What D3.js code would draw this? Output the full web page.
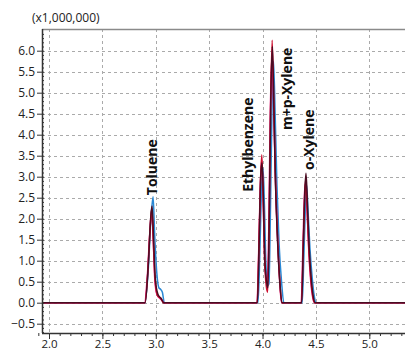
<!DOCTYPE html>
<html>
<head>
<meta charset="utf-8">
<script src="https://cdn.jsdelivr.net/npm/d3@7"></script>
<style>
  html, body { margin: 0; padding: 0; background: #fff; }
  svg { display: block; }
</style>
</head>
<body>
<svg id="chart" width="405" height="352"></svg>
<script>
// Chromatogram of aromatic solvents: retention time (min) vs. intensity (x1,000,000)
const xTicks = [2.0, 2.5, 3.0, 3.5, 4.0, 4.5, 5.0];
const yTicks = [-0.5, 0.0, 0.5, 1.0, 1.5, 2.0, 2.5, 3.0, 3.5, 4.0, 4.5, 5.0, 5.5, 6.0];
const scaleNote = "(x1,000,000)";

const peakNames = ["Toluene", "Ethylbenzene", "m+p-Xylene", "o-Xylene"];
const peakLabelTimes = [3.016, 3.911, 4.276, 4.486];
const peakLabelBase = [2.56, 2.64, 4.11, 3.16];

const seriesColors = ["#2a88d4", "#e8187e", "#cc1030", "#4a0c22"];

// [time, intensity] samples per run
const blueRun = [
  [1.90, 0], [2.900, 0], [2.930, 0.8], [2.955, 2.0], [2.975, 2.52], [2.990, 1.6], [3.010, 0.7],
  [3.030, 0.35], [3.045, 0.32], [3.062, 0.25], [3.080, 0],
  [3.958, 0], [3.975, 1.2], [3.990, 2.7], [4.005, 3.2], [4.018, 2.3], [4.032, 0.9], [4.048, 0.4],
  [4.060, 0.45], [4.073, 2.0], [4.088, 4.5], [4.103, 5.75], [4.118, 4.5], [4.135, 2.8],
  [4.155, 1.4], [4.178, 0.5], [4.200, 0],
  [4.372, 0], [4.387, 1.1], [4.402, 2.3], [4.413, 2.8], [4.426, 2.2], [4.444, 1.3], [4.465, 0.6],
  [4.485, 0.15], [4.502, 0], [5.50, 0]
];
const pinkRun = [
  [1.90, 0], [2.895, 0], [2.920, 0.6], [2.945, 1.7], [2.962, 2.2], [2.975, 1.6], [2.990, 0.6],
  [3.010, 0.2], [3.040, 0.1], [3.060, 0.05], [3.080, 0],
  [3.948, 0], [3.962, 1.0], [3.978, 2.7], [3.992, 3.4], [4.004, 2.7], [4.018, 1.2], [4.033, 0.6],
  [4.045, 0.5], [4.058, 1.7], [4.072, 4.4], [4.088, 5.9], [4.102, 4.9], [4.118, 3.2],
  [4.138, 1.7], [4.158, 0.6], [4.178, 0],
  [4.362, 0], [4.378, 1.3], [4.393, 2.6], [4.404, 2.85], [4.416, 2.3], [4.432, 1.3], [4.452, 0.5],
  [4.472, 0.1], [4.488, 0], [5.50, 0]
];
const redRun = [
  [1.90, 0], [2.900, 0], [2.925, 0.7], [2.948, 1.8], [2.963, 2.25], [2.978, 1.4], [2.995, 0.5],
  [3.020, 0.15], [3.050, 0.1], [3.070, 0],
  [3.950, 0], [3.965, 1.2], [3.980, 2.8], [3.993, 3.52], [4.005, 2.6], [4.020, 1.0], [4.035, 0.4],
  [4.048, 0.25], [4.060, 1.5], [4.075, 4.5], [4.090, 6.25], [4.105, 4.8], [4.120, 3.0],
  [4.140, 1.6], [4.160, 0.6], [4.180, 0],
  [4.365, 0], [4.380, 1.2], [4.395, 2.5], [4.405, 2.95], [4.418, 2.2], [4.435, 1.2], [4.455, 0.5],
  [4.475, 0.1], [4.490, 0], [5.50, 0]
];
const darkRun = [
  [1.90, 0], [2.900, 0], [2.930, 0.9], [2.952, 2.0], [2.965, 2.3], [2.980, 1.5], [2.995, 0.6],
  [3.020, 0.2], [3.050, 0.1], [3.075, 0],
  [3.952, 0], [3.968, 1.4], [3.983, 3.0], [3.995, 3.33], [4.008, 2.5], [4.022, 1.0], [4.038, 0.5],
  [4.050, 0.35], [4.062, 1.8], [4.077, 4.8], [4.092, 6.1], [4.107, 4.6], [4.122, 2.8],
  [4.142, 1.4], [4.162, 0.5], [4.182, 0],
  [4.367, 0], [4.382, 1.4], [4.397, 2.7], [4.407, 3.08], [4.420, 2.4], [4.437, 1.3], [4.457, 0.55],
  [4.477, 0.12], [4.492, 0], [5.50, 0]
];
const runs = [blueRun, pinkRun, redRun, darkRun];

const svg = d3.select("#chart");
const x = d3.scaleLinear().domain([2.0, 5.0]).range([49, 369.3]);
const y = d3.scaleLinear().domain([0, 6.0]).range([302.7, 50.7]);
const plotLeft = 42, plotTop = 29, plotBottom = 333, plotRight = 420;

const font = "'Open Sans', 'Noto Sans', sans-serif";

svg.append("defs").append("clipPath").attr("id", "plotClip")
  .append("rect").attr("x", plotLeft).attr("y", plotTop)
  .attr("width", plotRight - plotLeft).attr("height", plotBottom - plotTop);

// dashed grid
const grid = svg.append("g").attr("stroke", "#aaa").attr("stroke-width", 1)
  .attr("stroke-dasharray", "3,3");
grid.selectAll("line.h").data(yTicks).join("line")
  .attr("x1", plotLeft).attr("x2", plotRight)
  .attr("y1", d => Math.round(y(d)) + 0.5).attr("y2", d => Math.round(y(d)) + 0.5);
grid.selectAll("line.v").data(xTicks).join("line")
  .attr("y1", plotTop).attr("y2", plotBottom)
  .attr("x1", d => Math.round(x(d)) + 0.5).attr("x2", d => Math.round(x(d)) + 0.5);

// top frame
svg.append("line").attr("x1", plotLeft).attr("x2", plotRight)
  .attr("y1", plotTop + 0.5).attr("y2", plotTop + 0.5)
  .attr("stroke", "#8a8a8a").attr("stroke-width", 1.5);

// traces
const line = d3.line().x(d => x(d[0])).y(d => y(d[1])).curve(d3.curveMonotoneX);
svg.append("g").attr("clip-path", "url(#plotClip)")
  .selectAll("path").data(runs).join("path")
  .attr("d", line).attr("fill", "none")
  .attr("stroke", (d, i) => seriesColors[i])
  .attr("stroke-width", 1.5).attr("stroke-linejoin", "round");

// y axis
const yAxis = d3.axisLeft(y).tickValues(yTicks).tickFormat(d3.format(".1f"))
  .tickSize(5).tickPadding(2);
const yMinor = d3.range(-7, 65).map(v => v / 10);
svg.append("g").attr("transform", `translate(${plotLeft},0)`)
  .call(d3.axisRight(y).tickValues(yMinor).tickSize(2).tickFormat(""))
  .call(g => g.select(".domain").remove())
  .selectAll("line").attr("stroke", "#333");
const ya = svg.append("g").attr("transform", `translate(${plotLeft},0)`).call(yAxis);
ya.select(".domain").attr("d", `M0.5,${plotTop}V${plotBottom}`).attr("stroke", "#333").attr("stroke-width", 1.5);
ya.selectAll(".tick line").attr("stroke", "#333");
ya.selectAll("text").attr("font-family", font).attr("font-size", 12).attr("fill", "#222");

// x axis
const xMinor = d3.range(19, 54).map(v => v / 10);
svg.append("g").attr("transform", `translate(0,${plotBottom})`)
  .call(d3.axisBottom(x).tickValues(xMinor).tickSize(3).tickFormat(""))
  .call(g => g.select(".domain").remove())
  .selectAll("line").attr("stroke", "#333");
const xa = svg.append("g").attr("transform", `translate(0,${plotBottom})`)
  .call(d3.axisBottom(x).tickValues(xTicks).tickFormat(d3.format(".1f")).tickSize(6).tickPadding(3));
xa.select(".domain").attr("d", `M${plotLeft},0.5H${plotRight}`).attr("stroke", "#333").attr("stroke-width", 1.5);
xa.selectAll(".tick line").attr("stroke", "#333");
xa.selectAll("text").attr("font-family", font).attr("font-size", 11.5).attr("fill", "#222")
  .attr("y", 14.5).attr("dy", null);

// multiplier note
svg.append("text").attr("x", 32).attr("y", 22).text(scaleNote)
  .attr("font-family", font).attr("font-size", 12).attr("fill", "#222");

// peak labels
svg.selectAll("text.peak").data(peakNames).join("text")
  .attr("class", "peak")
  .attr("transform", (d, i) => `translate(${x(peakLabelTimes[i])},${y(peakLabelBase[i])}) rotate(-90)`)
  .attr("font-family", font).attr("font-weight", "bold").attr("font-size", 14)
  .attr("fill", "#111").text(d => d);
</script>
</body>
</html>
